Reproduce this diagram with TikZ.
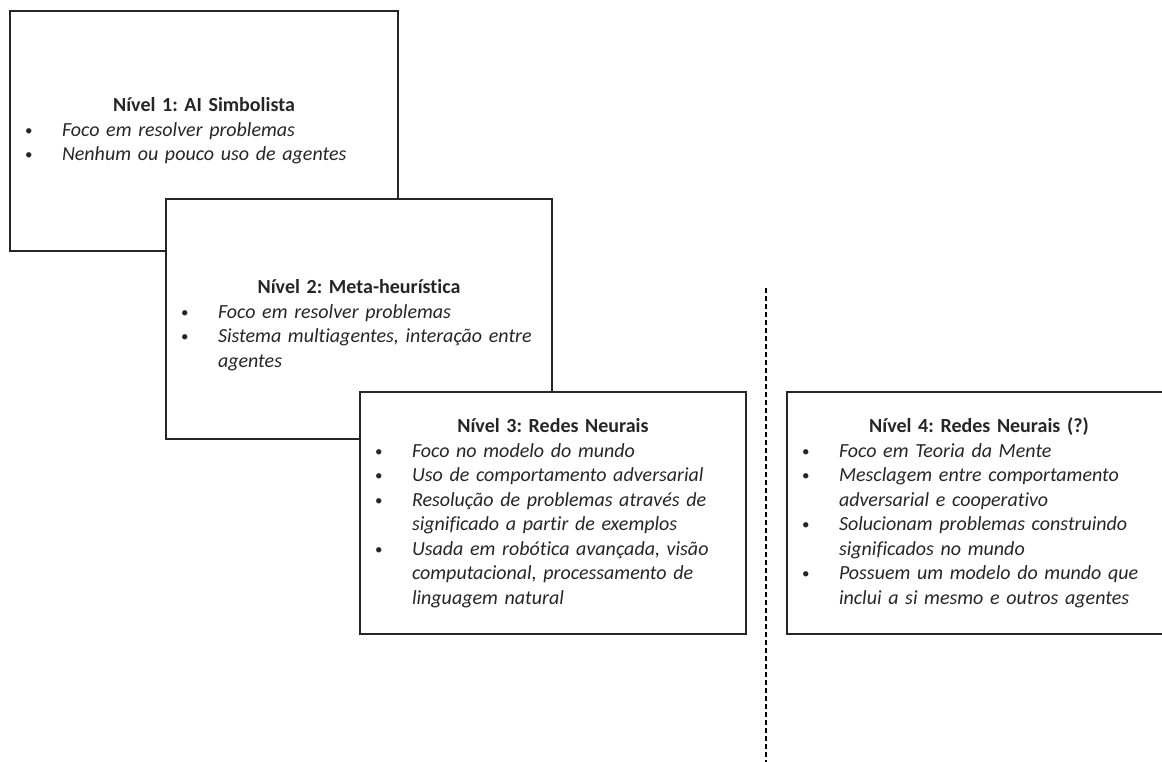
\documentclass[tikz,border=0pt]{standalone}
\usepackage{fontspec}
\setmainfont{Carlito}[Ligatures=NoCommon]
\frenchspacing
\newcommand{\smallbullet}{\raisebox{1pt}{\fontsize{15}{15}\selectfont\textbullet}}
\newcommand{\bl}[1]{\par\noindent\makebox[37pt][l]{\smallbullet}\mbox{\itshape #1}}
\newcommand{\cl}[1]{\par\noindent\hspace*{37pt}\mbox{\itshape #1}}
\newcommand{\ttl}[1]{{\centering\bfseries #1\par}}
\tikzset{
  levelbox/.style={draw=black!85, line width=1.2pt, fill=white, rectangle,
    inner xsep=15pt, inner ysep=0pt, align=left, text=black!85,
    font=\fontsize{20}{24.5}\selectfont},
  divider/.style={draw=black, line width=1.2pt, dash pattern=on 5pt off 3pt}
}
\begin{document}
\begin{tikzpicture}[x=1pt, y=-1pt]
  \useasboundingbox (0,0) rectangle (1162,762);
  \fill[white] (0,0) rectangle (1162,762);
  \clip (0,0) rectangle (1162,762);

  % level 1
  \node[levelbox, minimum width=388pt, minimum height=240pt, text width=358pt] (n1) at (204,131) {%
    \ttl{Nível 1: AI Simbolista}%
    \bl{Foco em resolver problemas}%
    \bl{Nenhum ou pouco uso de agentes}};

  % level 2 (a tall strut drops the text a little below the middle)
  \node[levelbox, minimum width=386pt, minimum height=240pt, text width=356pt] (n2) at (359,319) {%
    \ttl{\rule{0pt}{26pt}Nível 2: Meta-heurística}%
    \bl{Foco em resolver problemas}%
    \bl{Sistema multiagentes, interação entre}%
    \cl{agentes}};

  % level 3
  \node[levelbox, minimum width=386pt, minimum height=242pt, text width=356pt] (n3) at (553,513) {%
    \ttl{Nível 3: Redes Neurais}%
    \bl{Foco no modelo do mundo}%
    \bl{Uso de comportamento adversarial}%
    \bl{Resolução de problemas através de}%
    \cl{significado a partir de exemplos}%
    \bl{Usada em robótica avançada, visão}%
    \cl{computacional, processamento de}%
    \cl{linguagem natural}};

  % divider between the two groups
  \coordinate (dtop) at (766,288);
  \coordinate (dbot) at (766,762);
  \draw[divider] (dtop) -- (dbot);

  % level 4
  \node[levelbox, minimum width=384pt, minimum height=242pt, text width=354pt] (n4) at (979,513) {%
    \ttl{Nível 4: Redes Neurais (?)}%
    \bl{Foco em Teoria da Mente}%
    \bl{Mesclagem entre comportamento}%
    \cl{adversarial e cooperativo}%
    \bl{Solucionam problemas construindo}%
    \cl{significados no mundo}%
    \bl{Possuem um modelo do mundo que}%
    \cl{inclui a si mesmo e outros agentes}};
\end{tikzpicture}
\end{document}
